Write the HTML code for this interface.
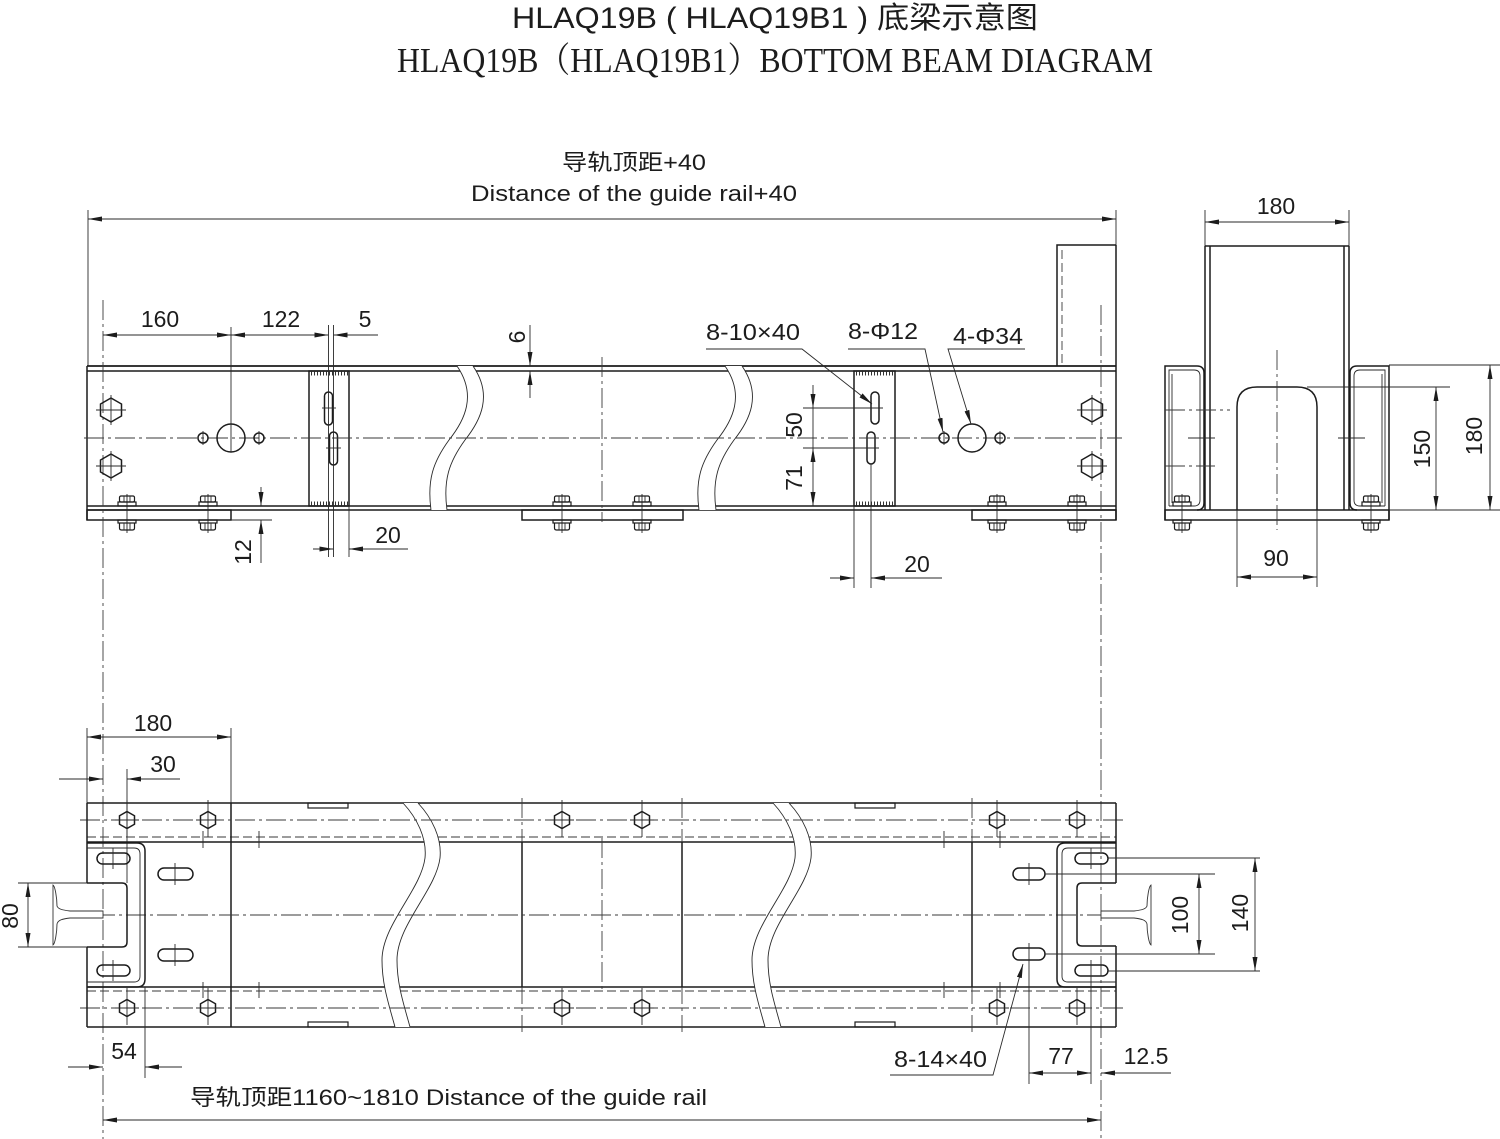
<!DOCTYPE html>
<html><head><meta charset="utf-8">
<style>
html,body{margin:0;padding:0;background:#fff}
svg{display:block}
.o{stroke:#1c1c1c;stroke-width:1.5;fill:none}
.t{stroke:#2a2a2a;stroke-width:0.9;fill:none}
.c{stroke:#3a3a3a;stroke-width:0.9;fill:none;stroke-dasharray:20 4 3 4}
.d{stroke:#3a3a3a;stroke-width:0.9;fill:none;stroke-dasharray:9 4}
.w{fill:#fff;stroke:none}
text{font-family:"Liberation Sans","Noto Sans CJK SC",sans-serif;fill:#1c1c1c;font-size:23px}
</style></head><body>
<svg width="1500" height="1139" viewBox="0 0 1500 1139" xmlns="http://www.w3.org/2000/svg">
<defs>
<marker id="a" viewBox="0 0 14 5" refX="14" refY="2.5" markerWidth="14" markerHeight="5" markerUnits="userSpaceOnUse" orient="auto-start-reverse"><path d="M0,0L14,2.5L0,5z" fill="#1c1c1c"/></marker>
<g id="hf"><polygon class="o" points="0,-12 10.5,-6 10.5,6 0,12 -10.5,6 -10.5,-6"/><line class="t" x1="-15" y1="0" x2="15" y2="0"/><line class="t" x1="0" y1="-15" x2="0" y2="15"/></g>
<g id="hb"><polygon class="o" points="0,-8.5 7.5,-4.25 7.5,4.25 0,8.5 -7.5,4.25 -7.5,-4.25"/><line class="t" x1="-12" y1="0" x2="12" y2="0"/><line class="t" x1="0" y1="-20" x2="0" y2="17"/></g>
<g id="bt">
<line class="t" x1="0" y1="-12" x2="0" y2="27"/>
<rect class="o" x="-7.5" y="-10" width="15" height="6" rx="1.5" style="stroke-width:1.2"/>
<line class="t" x1="-3" y1="-10" x2="-3" y2="-4"/><line class="t" x1="3" y1="-10" x2="3" y2="-4"/>
<rect class="o" x="-9" y="-4" width="18" height="4" style="stroke-width:1.2"/>
<rect class="o" x="-9" y="14" width="18" height="3" style="stroke-width:1.2"/>
<path class="o" d="M-7.5,17 V22 Q-7.5,24 -5.5,24 H5.5 Q7.5,24 7.5,22 V17" style="stroke-width:1.2"/>
<line class="t" x1="-3" y1="17" x2="-3" y2="24"/><line class="t" x1="3" y1="17" x2="3" y2="24"/>
</g>
</defs>

<!-- TITLES -->
<text x="775" y="28" text-anchor="middle" style="font-size:30px" textLength="526" lengthAdjust="spacingAndGlyphs">HLAQ19B ( HLAQ19B1 ) 底梁示意图</text>
<text x="775" y="72" text-anchor="middle" style="font-family:'Liberation Serif','Noto Serif CJK SC',serif;font-size:35px" textLength="756" lengthAdjust="spacingAndGlyphs">HLAQ19B（HLAQ19B1）BOTTOM BEAM DIAGRAM</text>

<text x="634" y="170" text-anchor="middle" style="font-size:22px" textLength="144" lengthAdjust="spacingAndGlyphs">导轨顶距+40</text>
<text x="634" y="201" text-anchor="middle" style="font-size:22px" textLength="326" lengthAdjust="spacingAndGlyphs">Distance of the guide rail+40</text>

<!-- ================= FRONT VIEW ================= -->
<line class="t" x1="88" y1="219" x2="1116" y2="219" marker-start="url(#a)" marker-end="url(#a)"/>
<line class="t" x1="88" y1="210" x2="88" y2="366"/>
<line class="t" x1="1116" y1="210" x2="1116" y2="245"/>

<line class="o" x1="87" y1="366" x2="1116" y2="366" style="stroke-width:1.8"/>
<line class="o" x1="87" y1="371" x2="1116" y2="371"/>
<line class="o" x1="87" y1="506" x2="1116" y2="506"/>
<line class="o" x1="87" y1="510" x2="1116" y2="510"/>

<path class="w" d="M457,366 L473,366 C493,395 481,420 465,440 C449,462 443,480 447,510 L431,510 C427,480 433,462 449,440 C465,420 477,395 457,366 Z"/>
<path class="w" d="M725,366 L742,366 C762,395 750,420 734,440 C718,462 712,480 716,510 L699,510 C695,480 701,462 717,440 C733,420 745,395 725,366 Z"/>
<path class="t" d="M457,366 C477,395 465,420 449,440 C433,462 427,480 431,510"/>
<path class="t" d="M473,366 C493,395 481,420 465,440 C449,462 443,480 447,510"/>
<path class="t" d="M725,366 C745,395 733,420 717,440 C701,462 695,480 699,510"/>
<path class="t" d="M742,366 C762,395 750,420 734,440 C718,462 712,480 716,510"/>

<line class="o" x1="87" y1="366" x2="87" y2="520"/>
<line class="o" x1="1116" y1="245" x2="1116" y2="520"/>
<path class="o" d="M1057,366 V245 H1116"/>
<line class="d" x1="1062" y1="250" x2="1062" y2="366"/>

<rect class="o" x="87" y="510" width="144" height="10"/>
<rect class="o" x="522" y="510" width="161" height="10"/>
<rect class="o" x="972" y="510" width="144" height="10"/>
<line class="t" x1="231" y1="520" x2="272" y2="520"/>

<rect class="o" x="309" y="371" width="40" height="135"/>
<line x1="311" y1="373.5" x2="348" y2="373.5" stroke="#333" stroke-width="4" stroke-dasharray="1 2"/>
<line x1="311" y1="503.5" x2="348" y2="503.5" stroke="#333" stroke-width="4" stroke-dasharray="1 2"/>
<rect class="o" x="854" y="371" width="41" height="135"/>
<line x1="856" y1="373.5" x2="894" y2="373.5" stroke="#333" stroke-width="4" stroke-dasharray="1 2"/>
<line x1="856" y1="503.5" x2="894" y2="503.5" stroke="#333" stroke-width="4" stroke-dasharray="1 2"/>

<rect class="o" x="324.5" y="392" width="8" height="33" rx="4"/>
<rect class="o" x="329.5" y="432" width="8" height="33" rx="4"/>
<line class="t" x1="322" y1="408" x2="336" y2="408"/>
<line class="t" x1="326" y1="448" x2="341" y2="448"/>
<rect class="o" x="871" y="392" width="8" height="32" rx="4"/>
<rect class="o" x="867" y="432" width="8" height="32" rx="4"/>

<line class="c" x1="84" y1="438" x2="1122" y2="438"/>
<line class="c" x1="602" y1="357" x2="602" y2="522"/>
<line class="c" x1="103" y1="300" x2="103" y2="1139"/>
<line class="c" x1="1101" y1="305" x2="1101" y2="1139"/>

<circle class="o" cx="231" cy="438" r="14" fill="#fff"/>
<circle class="o" cx="203" cy="438" r="5"/>
<circle class="o" cx="259" cy="438" r="5"/>
<circle class="o" cx="972" cy="438" r="14"/>
<circle class="o" cx="944" cy="438" r="5"/>
<circle class="o" cx="1000" cy="438" r="5"/>
<line class="t" x1="231" y1="327" x2="231" y2="452"/>
<line class="t" x1="203" y1="431" x2="203" y2="445"/>
<line class="t" x1="259" y1="431" x2="259" y2="445"/>
<line class="t" x1="944" y1="431" x2="944" y2="445"/>
<line class="t" x1="1000" y1="431" x2="1000" y2="445"/>

<use href="#hf" x="111" y="410"/>
<use href="#hf" x="111" y="466"/>
<use href="#hf" x="1092" y="410"/>
<use href="#hf" x="1092" y="466"/>

<use href="#bt" x="127" y="506"/>
<use href="#bt" x="208" y="506"/>
<use href="#bt" x="562" y="506"/>
<use href="#bt" x="642" y="506"/>
<use href="#bt" x="997" y="506"/>
<use href="#bt" x="1077" y="506"/>

<line class="t" x1="103" y1="335" x2="231" y2="335" marker-start="url(#a)" marker-end="url(#a)"/>
<line class="t" x1="231" y1="335" x2="328.5" y2="335" marker-start="url(#a)" marker-end="url(#a)"/>
<line class="t" x1="378" y1="335" x2="333.5" y2="335" marker-end="url(#a)"/>
<line class="t" x1="328.5" y1="325" x2="328.5" y2="557"/>
<line class="t" x1="333.5" y1="325" x2="333.5" y2="557"/>
<text x="160" y="327" text-anchor="middle">160</text>
<text x="281" y="327" text-anchor="middle">122</text>
<text x="365" y="327" text-anchor="middle">5</text>

<line class="t" x1="313" y1="549" x2="333.5" y2="549" marker-end="url(#a)"/>
<line class="t" x1="408" y1="549" x2="349" y2="549" marker-end="url(#a)"/>
<line class="t" x1="349" y1="506" x2="349" y2="557"/>
<text x="388" y="543" text-anchor="middle">20</text>

<line class="t" x1="261" y1="487" x2="261" y2="506" marker-end="url(#a)"/>
<line class="t" x1="261" y1="563" x2="261" y2="520" marker-end="url(#a)"/>
<text transform="translate(251,552) rotate(-90)" text-anchor="middle">12</text>

<line class="t" x1="530" y1="325" x2="530" y2="366" marker-end="url(#a)"/>
<line class="t" x1="530" y1="398" x2="530" y2="371" marker-end="url(#a)"/>
<text transform="translate(525,337) rotate(-90)" text-anchor="middle">6</text>

<line class="t" x1="813" y1="385" x2="813" y2="408" marker-end="url(#a)"/>
<line class="t" x1="813" y1="408" x2="813" y2="448"/>
<line class="t" x1="813" y1="448" x2="813" y2="506" marker-start="url(#a)" marker-end="url(#a)"/>
<line class="t" x1="803" y1="408" x2="883" y2="408"/>
<line class="t" x1="803" y1="448" x2="879" y2="448"/>
<text transform="translate(802,425) rotate(-90)" text-anchor="middle">50</text>
<text transform="translate(802,478) rotate(-90)" text-anchor="middle">71</text>

<line class="t" x1="830" y1="578" x2="854" y2="578" marker-end="url(#a)"/>
<line class="t" x1="942" y1="578" x2="871" y2="578" marker-end="url(#a)"/>
<line class="t" x1="854" y1="506" x2="854" y2="588"/>
<line class="t" x1="871" y1="464" x2="871" y2="588"/>
<text x="917" y="572" text-anchor="middle">20</text>

<polyline class="t" points="706,349 802,349 872,404" marker-end="url(#a)"/>
<polyline class="t" points="848,349 925,349 943,432" marker-end="url(#a)"/>
<polyline class="t" points="1025,349 948,349 971,424" marker-end="url(#a)"/>
<text x="706" y="340" textLength="94" lengthAdjust="spacingAndGlyphs">8-10×40</text>
<text x="848" y="339" textLength="70" lengthAdjust="spacingAndGlyphs">8-Φ12</text>
<text x="953" y="344" textLength="70" lengthAdjust="spacingAndGlyphs">4-Φ34</text>

<!-- ================= SIDE VIEW ================= -->
<line class="t" x1="1205" y1="222" x2="1349" y2="222" marker-start="url(#a)" marker-end="url(#a)"/>
<line class="t" x1="1205" y1="210" x2="1205" y2="246"/>
<line class="t" x1="1349" y1="210" x2="1349" y2="246"/>
<text x="1276" y="214" text-anchor="middle">180</text>

<line class="o" x1="1205" y1="246" x2="1349" y2="246"/>
<line class="o" x1="1205" y1="246" x2="1205" y2="510"/>
<line class="o" x1="1210" y1="246" x2="1210" y2="510"/>
<line class="o" x1="1349" y1="246" x2="1349" y2="510"/>
<line class="o" x1="1344" y1="246" x2="1344" y2="510"/>

<path class="o" d="M1165,520 V366 H1197 Q1204,366 1204,373 V503 Q1204,510 1197,510"/>
<path class="t" d="M1169,506 V370 H1194 Q1200,370 1200,376 V500 Q1200,506 1194,506 H1169"/>
<line class="t" x1="1172" y1="374" x2="1172" y2="503"/>
<path class="o" d="M1389,520 V366 H1357 Q1350,366 1350,373 V503 Q1350,510 1357,510"/>
<path class="t" d="M1385,506 V370 H1360 Q1354,370 1354,376 V500 Q1354,506 1360,506 H1385"/>
<line class="t" x1="1382" y1="374" x2="1382" y2="503"/>

<rect class="o" x="1165" y="510" width="224" height="10"/>
<path class="o" d="M1237,510 V407 Q1237,387 1257,387 H1297 Q1317,387 1317,407 V510"/>
<line class="c" x1="1277" y1="350" x2="1277" y2="530"/>
<line class="c" x1="1165" y1="410" x2="1230" y2="410"/>
<line class="c" x1="1165" y1="466" x2="1215" y2="466"/>
<line class="t" x1="1188" y1="438" x2="1215" y2="438"/>
<line class="t" x1="1338" y1="438" x2="1365" y2="438"/>
<use href="#bt" x="1182" y="506"/>
<use href="#bt" x="1371" y="506"/>

<line class="t" x1="1307" y1="387" x2="1450" y2="387"/>
<line class="t" x1="1389" y1="365" x2="1500" y2="365"/>
<line class="t" x1="1389" y1="510" x2="1500" y2="510"/>
<line class="t" x1="1436" y1="387" x2="1436" y2="510" marker-start="url(#a)" marker-end="url(#a)"/>
<line class="t" x1="1490" y1="365" x2="1490" y2="510" marker-start="url(#a)" marker-end="url(#a)"/>
<text transform="translate(1430,449) rotate(-90)" text-anchor="middle">150</text>
<text transform="translate(1482,436) rotate(-90)" text-anchor="middle">180</text>

<line class="t" x1="1237" y1="510" x2="1237" y2="587"/>
<line class="t" x1="1317" y1="510" x2="1317" y2="587"/>
<line class="t" x1="1237" y1="577" x2="1317" y2="577" marker-start="url(#a)" marker-end="url(#a)"/>
<text x="1276" y="566" text-anchor="middle">90</text>

<!-- ================= BOTTOM VIEW ================= -->
<line class="t" x1="87" y1="728" x2="87" y2="803"/>
<line class="t" x1="231" y1="728" x2="231" y2="803"/>
<line class="t" x1="87" y1="737" x2="231" y2="737" marker-start="url(#a)" marker-end="url(#a)"/>
<text x="153" y="731" text-anchor="middle">180</text>
<line class="t" x1="59" y1="779" x2="103" y2="779" marker-end="url(#a)"/>
<line class="t" x1="180" y1="779" x2="127" y2="779" marker-end="url(#a)"/>
<line class="t" x1="127" y1="769" x2="127" y2="883"/>
<text x="163" y="772" text-anchor="middle">30</text>

<line class="o" x1="87" y1="803" x2="1116" y2="803"/>
<line class="o" x1="87" y1="1027" x2="1116" y2="1027"/>
<line class="o" x1="87" y1="842" x2="1116" y2="842"/>
<line class="o" x1="87" y1="987" x2="1116" y2="987"/>
<line class="d" x1="87" y1="837" x2="1116" y2="837"/>
<line class="d" x1="87" y1="991" x2="1116" y2="991"/>

<line class="c" x1="522" y1="798" x2="522" y2="1032"/>
<line class="c" x1="682" y1="798" x2="682" y2="1032"/>
<line class="c" x1="972" y1="798" x2="972" y2="1032"/>
<line class="o" x1="522" y1="842" x2="522" y2="987"/>
<line class="o" x1="682" y1="842" x2="682" y2="987"/>
<line class="o" x1="972" y1="842" x2="972" y2="987"/>
<line class="o" x1="231" y1="803" x2="231" y2="1027"/>
<line class="c" x1="602" y1="838" x2="602" y2="992"/>

<line class="t" x1="203" y1="831" x2="203" y2="848"/>
<line class="t" x1="259" y1="831" x2="259" y2="848"/>
<line class="t" x1="944" y1="831" x2="944" y2="848"/>
<line class="t" x1="1000" y1="831" x2="1000" y2="848"/>
<line class="t" x1="203" y1="982" x2="203" y2="998"/>
<line class="t" x1="259" y1="982" x2="259" y2="998"/>
<line class="t" x1="944" y1="982" x2="944" y2="998"/>
<line class="t" x1="1000" y1="982" x2="1000" y2="998"/>

<rect class="o" x="308" y="803" width="40" height="5" style="stroke-width:1.2"/>
<rect class="o" x="308" y="1022" width="40" height="5" style="stroke-width:1.2"/>
<rect class="o" x="855" y="803" width="40" height="5" style="stroke-width:1.2"/>
<rect class="o" x="855" y="1022" width="40" height="5" style="stroke-width:1.2"/>

<path class="w" d="M403,803 L418,803 C432,818 442,838 440,858 C436,890 397,925 397,960 C397,985 404,1005 410,1027 L395,1027 C389,1005 382,985 382,960 C382,925 421,890 425,858 C427,838 417,818 403,803 Z"/>
<path class="w" d="M773,803 L789,803 C803,818 813,838 811,858 C807,890 768,925 768,960 C768,985 775,1005 781,1027 L765,1027 C759,1005 752,985 752,960 C752,925 791,890 795,858 C797,838 787,818 773,803 Z"/>
<path class="t" d="M403,803 C417,818 427,838 425,858 C421,890 382,925 382,960 C382,985 389,1005 395,1027"/>
<path class="t" d="M418,803 C432,818 442,838 440,858 C436,890 397,925 397,960 C397,985 404,1005 410,1027"/>
<path class="t" d="M773,803 C787,818 797,838 795,858 C791,890 752,925 752,960 C752,985 759,1005 765,1027"/>
<path class="t" d="M789,803 C803,818 813,838 811,858 C807,890 768,925 768,960 C768,985 775,1005 781,1027"/>

<line class="c" x1="80" y1="820" x2="1124" y2="820"/>
<line class="c" x1="80" y1="1008" x2="1124" y2="1008"/>
<line class="c" x1="64" y1="915" x2="1140" y2="915"/>

<path class="o" d="M87,803 V883 M87,947 V1027"/>
<path class="o" d="M1116,803 V883 M1116,946 V1027"/>

<path class="o" d="M87,843 H137 Q145,843 145,851 V979 Q145,987 137,987 H87"/>
<path class="t" d="M87,848 H134 Q140,848 140,854 V976 Q140,982 134,982 H87"/>
<path class="o" d="M87,883 H122 Q127,883 127,888 V942 Q127,947 122,947 H87"/>
<path class="o" d="M1116,843 H1065 Q1057,843 1057,851 V979 Q1057,987 1065,987 H1116"/>
<path class="t" d="M1116,848 H1068 Q1062,848 1062,854 V976 Q1062,982 1068,982 H1116"/>
<path class="o" d="M1116,883 H1082 Q1077,883 1077,888 V941 Q1077,946 1082,946 H1116"/>

<rect class="o" x="97" y="853" width="33" height="11" rx="5.5"/>
<rect class="o" x="97" y="965" width="33" height="11" rx="5.5"/>
<rect class="o" x="158" y="868" width="35" height="12" rx="6"/>
<rect class="o" x="158" y="949" width="35" height="12" rx="6"/>
<rect class="o" x="1075" y="853" width="33" height="11" rx="5.5"/>
<rect class="o" x="1075" y="965" width="33" height="11" rx="5.5"/>
<rect class="o" x="1013" y="868" width="32" height="12" rx="6"/>
<rect class="o" x="1013" y="948" width="32" height="12" rx="6"/>
<line class="t" x1="113" y1="848" x2="113" y2="869"/>
<line class="t" x1="113" y1="960" x2="113" y2="981"/>
<line class="t" x1="175" y1="863" x2="175" y2="885"/>
<line class="t" x1="175" y1="944" x2="175" y2="966"/>
<line class="t" x1="1091" y1="848" x2="1091" y2="869"/>
<line class="t" x1="1091" y1="960" x2="1091" y2="1084"/>
<line class="t" x1="1029" y1="863" x2="1029" y2="885"/>
<line class="t" x1="1029" y1="943" x2="1029" y2="1084"/>

<use href="#hb" x="127" y="820"/><use href="#hb" x="208" y="820"/>
<use href="#hb" x="562" y="820"/><use href="#hb" x="642" y="820"/>
<use href="#hb" x="997" y="820"/><use href="#hb" x="1077" y="820"/>
<use href="#hb" x="127" y="1008"/><use href="#hb" x="208" y="1008"/>
<use href="#hb" x="562" y="1008"/><use href="#hb" x="642" y="1008"/>
<use href="#hb" x="997" y="1008"/><use href="#hb" x="1077" y="1008"/>

<!-- rails -->
<path d="M53,885 C55,886 57,898 57,906 C58,909 62,910 70,911 L103,911 L103,918 L70,918 C62,919 58,920 57,924 C57,932 55,944 53,945 Z" fill="#fff" stroke="#333" stroke-width="0.9"/>
<path d="M1151,885 C1149,886 1147,898 1147,906 C1146,909 1142,910 1134,911 L1101,911 L1101,918 L1134,918 C1142,919 1146,920 1147,924 C1147,932 1149,944 1151,945 Z" fill="#fff" stroke="#333" stroke-width="0.9"/>

<line class="t" x1="18" y1="883" x2="87" y2="883"/>
<line class="t" x1="18" y1="947" x2="87" y2="947"/>
<line class="t" x1="28" y1="883" x2="28" y2="947" marker-start="url(#a)" marker-end="url(#a)"/>
<text transform="translate(18,916) rotate(-90)" text-anchor="middle">80</text>

<line class="t" x1="1045" y1="874" x2="1215" y2="874"/>
<line class="t" x1="1045" y1="954" x2="1215" y2="954"/>
<line class="t" x1="1108" y1="858" x2="1260" y2="858"/>
<line class="t" x1="1108" y1="971" x2="1260" y2="971"/>
<line class="t" x1="1199" y1="874" x2="1199" y2="954" marker-start="url(#a)" marker-end="url(#a)"/>
<line class="t" x1="1255" y1="858" x2="1255" y2="971" marker-start="url(#a)" marker-end="url(#a)"/>
<text transform="translate(1188,915) rotate(-90)" text-anchor="middle">100</text>
<text transform="translate(1248,913) rotate(-90)" text-anchor="middle">140</text>

<line class="t" x1="68" y1="1067" x2="103" y2="1067" marker-end="url(#a)"/>
<line class="t" x1="182" y1="1067" x2="145" y2="1067" marker-end="url(#a)"/>
<line class="t" x1="145" y1="987" x2="145" y2="1078"/>
<text x="124" y="1059" text-anchor="middle">54</text>

<line class="t" x1="1029" y1="1073" x2="1091" y2="1073" marker-start="url(#a)" marker-end="url(#a)"/>
<line class="t" x1="1171" y1="1073" x2="1101" y2="1073" marker-end="url(#a)"/>
<text x="1061" y="1064" text-anchor="middle">77</text>
<text x="1146" y="1064" text-anchor="middle">12.5</text>

<polyline class="t" points="890,1075 993,1075 1023,964" marker-end="url(#a)"/>
<text x="894" y="1067" textLength="93" lengthAdjust="spacingAndGlyphs">8-14×40</text>

<line class="t" x1="103" y1="1120" x2="1101" y2="1120" marker-start="url(#a)" marker-end="url(#a)"/>
<text x="190" y="1105" style="font-size:22px" textLength="517" lengthAdjust="spacingAndGlyphs">导轨顶距1160~1810 Distance of the guide rail</text>
</svg>
</body></html>
